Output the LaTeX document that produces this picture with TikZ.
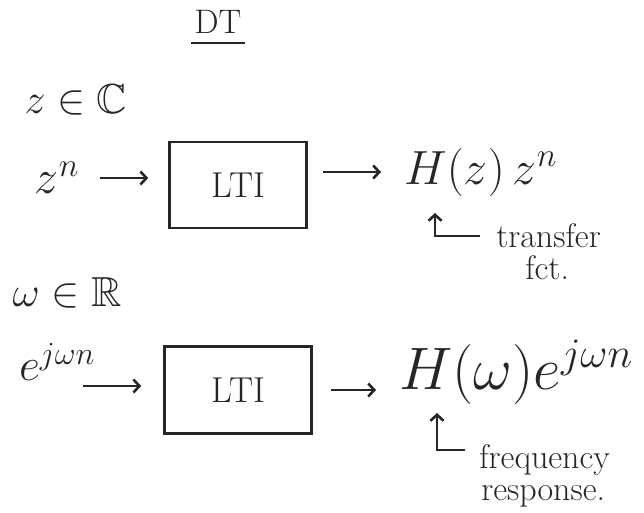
\RequirePackage{fix-cm}
\documentclass[tikz,border=0pt]{standalone}
\usepackage{amsmath,amssymb}
\usepackage{tikz}
\usetikzlibrary{arrows.meta,positioning}
\usepackage{xcolor}

\begin{document}
\begin{tikzpicture}[x=1pt, y=-1pt, line width=2.6pt, color=black!85,
    >={Straight Barb[length=6pt,width=13pt]},
    every node/.style={inner sep=2pt}]
  \tikzstyle{LTIBox}=[draw, font=\fontsize{36}{42}\selectfont]
  \tikzstyle{BigMath}=[font=\fontsize{48}{58}\selectfont]
  \tikzstyle{SetMath}=[font=\fontsize{42}{50}\selectfont]
  \tikzstyle{Note}=[anchor=west, font=\fontsize{34}{40}\selectfont]
  \tikzstyle{Flow}=[->, shorten <=18pt, shorten >=20pt]
  \useasboundingbox (0,0) rectangle (644,512);

  \node[font=\fontsize{34}{40}\selectfont] (dt) at (218,22) {DT};
  \draw ([yshift=-6pt]dt.south west) -- ([yshift=-6pt]dt.south east);

  % z-transform row
  \node[SetMath] (zset) at (76,100) {$z \in \mathbb{C}$};
  \node[BigMath] (zn) at (57,178) {$z^n$};
  \node[LTIBox, minimum width=137pt, minimum height=86pt] (lti1) at (238,185) {LTI};
  \node[BigMath, anchor=west] (hz) at (401,172) {$H(z)\,z^n$};
  \coordinate (tip1) at (435,213);
  \node[Note] (tf) at (493,236) {transfer};
  \node[Note] (fct) at (522,268) {fct.};

  \draw[Flow] (zn.east) -- (zn.east -| lti1.west);
  \draw[Flow, shorten <=15pt] (lti1.east |- hz.west) -- (hz.west);
  \draw[->, shorten <=13pt] (tf.west) -| (tip1);

  % frequency row
  \node[SetMath] (wset) at (67,293) {$\omega \in \mathbb{R}$};
  \node[font=\fontsize{46}{54}\selectfont] (ejw) at (57,362) {$e^{j\omega n}$};
  \coordinate (ein) at (83,386);
  \node[LTIBox, minimum width=147pt, minimum height=87pt] (lti2) at (238,390) {LTI};
  \node[font=\fontsize{60}{70}\selectfont, anchor=west] (hw) at (396,372) {$H(\omega)e^{j\omega n}$};
  \coordinate (tip2) at (437,413);
  \node[Note] (fq) at (476,460) {frequency};
  \node[Note] (rsp) at (478,496) {response.};

  \draw[->, shorten >=22pt] (ein) -- (ein -| lti2.west);
  \draw[Flow] (lti2.east) -- (lti2.east -| hw.west);
  \draw[->, shorten <=11pt] ([yshift=10pt]fq.west) -| (tip2);
\end{tikzpicture}
\end{document}
